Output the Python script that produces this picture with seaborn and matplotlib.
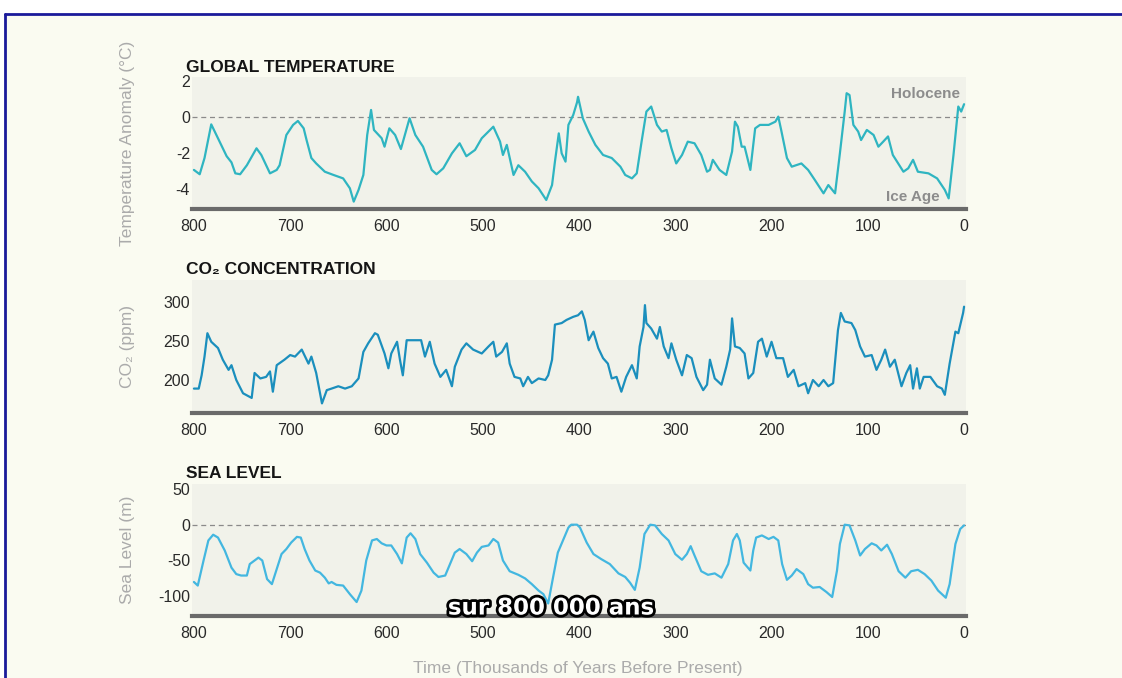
import numpy as np
import pandas as pd
import seaborn as sns
import matplotlib.pyplot as plt
import matplotlib.patheffects as pe
from matplotlib.lines import Line2D
from matplotlib.patches import Rectangle

# ages in thousands of years before present
temp_age = [800, 794, 789, 782, 775, 766, 761, 757, 752, 745, 735, 730, 721, 714, 711, 704, 697, 692, 686, 683,
            678, 673, 664, 655, 645, 638, 634, 629, 624, 620, 616, 613, 605, 602, 597, 591, 585, 576, 570, 562,
            553, 548, 541, 532, 524, 517, 508, 501, 489, 482, 479, 475, 468, 463, 456, 449, 442, 434, 428, 425,
            421, 418, 414, 411, 406, 402, 401, 396, 390, 383, 375, 366, 357, 352, 345, 340, 335, 330, 325, 319,
            314, 309, 304, 299, 293, 287, 280, 273, 267, 264, 261, 254, 247, 241, 238, 235, 231, 228, 222, 217,
            212, 203, 196, 193, 190, 184, 179, 169, 162, 155, 146, 141, 134, 129, 124, 122, 119, 115, 110, 107,
            101, 94, 89, 84, 79, 74, 63, 58, 53, 48, 37, 28, 20, 16, 11, 6, 3, 0]
temp_val = [-2.96, -3.2, -2.3, -0.43, -1.2, -2.2, -2.54, -3.15, -3.2, -2.7, -1.76, -2.13, -3.15, -2.96, -2.7, -1.02,
            -0.46, -0.24, -0.65, -1.3, -2.3, -2.6, -3.06, -3.24, -3.43, -3.98, -4.72, -4.07, -3.24, -1.02, 0.37,
            -0.74, -1.2, -1.67, -0.65, -1.02, -1.8, -0.09, -1.02, -1.67, -2.96, -3.2, -2.87, -2.04, -1.48, -2.2,
            -1.85, -1.2, -0.56, -1.39, -2.13, -1.57, -3.24, -2.7, -3.06, -3.6, -3.98, -4.63, -3.8, -2.5, -0.93,
            -2.04, -2.5, -0.46, 0.09, 0.8, 1.1, -0.1, -0.83, -1.57, -2.13, -2.3, -2.78, -3.24, -3.43, -3.15, -1.39,
            0.28, 0.56, -0.46, -0.83, -0.74, -1.76, -2.6, -2.13, -1.39, -1.48, -2.13, -3.06, -2.96, -2.4, -2.96,
            -3.24, -1.94, -0.28, -0.56, -1.67, -1.67, -2.96, -0.65, -0.46, -0.46, -0.28, 0.0, -0.74, -2.3, -2.78,
            -2.6, -2.96, -3.52, -4.26, -3.8, -4.26, -2.04, 0.28, 1.3, 1.2, -0.46, -0.83, -1.3, -0.74, -1.02, -1.67,
            -1.39, -1.1, -2.13, -3.06, -2.87, -2.4, -3.06, -3.15, -3.43, -4.07, -4.54, -2.13, 0.56, 0.28, 0.69]

co2_age = [800, 795, 792, 789, 786, 782, 775, 770, 764, 761, 756, 749, 740, 737, 731, 725, 721, 718, 714, 706,
           700, 695, 688, 681, 678, 673, 667, 662, 657, 650, 643, 636, 629, 624, 619, 612, 609, 602, 598, 595,
           589, 586, 583, 579, 570, 564, 560, 555, 550, 544, 538, 532, 529, 522, 517, 510, 501, 494, 489, 486,
           480, 475, 472, 467, 461, 458, 453, 449, 442, 435, 432, 428, 425, 418, 413, 406, 401, 397, 394, 390,
           385, 380, 375, 370, 366, 361, 356, 351, 345, 340, 337, 333, 331.5, 330, 325, 319, 316, 312, 307, 304,
           299, 293, 288, 283, 278, 271, 267, 264, 259, 252, 247, 243, 241, 238, 233, 228, 224, 219, 214, 210,
           205, 200, 195, 188, 183, 177, 172, 165, 162, 157, 151, 146, 141, 136, 131, 128, 124, 117, 113, 108,
           103, 96, 91, 86, 82, 77, 72, 65, 60, 56, 53, 49, 46, 42, 35, 28, 23, 20, 15, 9, 6, 1, 0]
co2_val = [189, 189, 206, 230, 260, 249, 241, 226, 213, 219, 200, 183, 177, 209, 202, 204, 211, 185, 219, 226,
           232, 230, 239, 221, 230, 209, 170, 187, 189, 192, 189, 192, 202, 236, 247, 260, 258, 234, 215, 234,
           249, 226, 206, 251, 251, 251, 230, 249, 221, 204, 213, 192, 217, 239, 247, 239, 234, 243, 249, 230,
           236, 247, 221, 204, 202, 192, 204, 196, 202, 200, 206, 226, 271, 273, 277, 281, 283, 288, 277, 251,
           262, 241, 228, 221, 202, 204, 185, 204, 219, 202, 243, 268, 296, 273, 266, 253, 268, 243, 228, 247,
           226, 206, 232, 228, 204, 187, 194, 226, 202, 194, 217, 239, 279, 243, 241, 234, 202, 209, 249, 253,
           230, 249, 228, 228, 204, 213, 192, 196, 183, 200, 192, 200, 192, 196, 264, 286, 275, 273, 264, 243,
           230, 232, 213, 226, 239, 217, 226, 192, 209, 219, 189, 215, 189, 204, 204, 192, 189, 181, 221, 262,
           260, 286, 294]

sea_age = [800, 796, 790, 785, 780, 775, 768, 761, 756, 751, 745, 742, 738, 733, 729, 724, 719, 714, 709, 704,
           699, 693, 689, 685, 680, 674, 669, 664, 660, 657, 652, 645, 638, 631, 626, 621, 615, 610, 605, 600,
           595, 589, 584, 579, 575, 570, 565, 558, 551, 546, 539, 534, 529, 524, 517, 511, 506, 501, 494, 489,
           484, 479, 472, 463, 456, 449, 442, 437, 432, 427, 422, 416, 411, 408, 402, 399, 392, 385, 377, 368,
           359, 352, 347, 342, 337, 332, 326, 321, 314, 307, 300, 293, 288, 284, 280, 273, 266, 259, 252, 245,
           240, 236, 233, 229, 222, 219, 216, 210, 203, 198, 193, 189, 184, 179, 174, 167, 162, 157, 150, 143,
           137, 132, 129, 124, 119, 113, 108, 103, 96, 91, 86, 80, 75, 68, 61, 55, 48, 41, 34, 27,
           19, 15, 9, 4, 0]
sea_val = [-80, -85, -50, -22, -14, -18, -36, -60, -69, -71, -71, -55, -51, -46, -50, -76, -83, -62, -41, -34,
           -25, -17, -18, -34, -50, -64, -67, -74, -82, -80, -84, -85, -97, -108, -92, -50, -22, -20, -26, -29,
           -29, -41, -54, -18, -12, -20, -41, -53, -67, -73, -71, -55, -39, -34, -41, -51, -39, -31, -29, -20,
           -25, -50, -65, -70, -75, -83, -92, -97, -110, -74, -39, -20, -4, 0, 0, -4, -25, -41, -48, -55,
           -68, -73, -81, -91, -60, -13, 0, -1, -13, -22, -41, -49, -41, -30, -43, -65, -70, -68, -74, -55,
           -22, -13, -22, -53, -64, -36, -18, -15, -20, -17, -22, -55, -77, -71, -62, -69, -83, -88, -87, -94,
           -101, -64, -27, 0, -1, -22, -43, -34, -26, -29, -36, -28, -41, -65, -74, -65, -63, -69, -78, -92,
           -102, -83, -27, -6, -1]

x_ticks = [800, 700, 600, 500, 400, 300, 200, 100, 0]

temp = pd.DataFrame({'age': temp_age, 'value': temp_val})
co2 = pd.DataFrame({'age': co2_age, 'value': co2_val})
sea = pd.DataFrame({'age': sea_age, 'value': sea_val})

sns.set_style("white")
plt.rcParams['font.family'] = ['Liberation Sans', 'DejaVu Sans']
plt.rcParams['axes.unicode_minus'] = False

W, H = 1122, 678
fig = plt.figure(figsize=(W / 100, H / 100), dpi=100)
fig.patch.set_facecolor('#fafbf1')

def px_axes(top, bottom, left=192, right=966):
    return fig.add_axes([left / W, 1 - bottom / H, (right - left) / W, (bottom - top) / H])

panels = [
    # data, top, bottom, ylim, yticks, colour, title, ylabel, zero line
    (temp, 77, 209, (-5.13, 2.2), [2, 0, -2, -4], '#2fb5c1', 'GLOBAL TEMPERATURE', 'Temperature Anomaly (°C)', True),
    (co2, 280, 413, (157.7, 328.2), [300, 250, 200], '#1b8fbd', 'CO₂ CONCENTRATION', 'CO₂ (ppm)', False),
    (sea, 484, 616, (-127.5, 56.8), [50, 0, -50, -100], '#43b7e0', 'SEA LEVEL', 'Sea Level (m)', True),
]

for df, top, bottom, ylim, yticks, colour, title, ylabel, zero in panels:
    ax = px_axes(top, bottom)
    ax.set_facecolor('#f1f2ea')
    if zero:
        ax.axhline(0, color='#8a8a8a', lw=0.9, dashes=(4, 3), zorder=1)
    sns.lineplot(data=df, x='age', y='value', ax=ax, color=colour, linewidth=1.6,
                 estimator=None, sort=False, zorder=2)
    ax.set_xlim(802, -2)
    ax.set_ylim(*ylim)
    ax.set_xticks(x_ticks)
    ax.set_yticks(yticks)
    ax.set_xlabel('')
    ax.set_ylabel('')
    for s in ['top', 'right', 'left']:
        ax.spines[s].set_visible(False)
    ax.spines['bottom'].set_color('#6a6a6a')
    ax.spines['bottom'].set_linewidth(3)
    ax.tick_params(axis='x', length=0, pad=7, labelsize=11.5, labelcolor='#2a2a2a')
    ax.tick_params(axis='y', length=0, pad=1.5, labelsize=11.5, labelcolor='#2a2a2a')
    # panel title and side label
    fig.text(186 / W, 1 - (top - 10) / H, title, fontsize=12.5, fontweight='bold', color='#151515',
             ha='left', va='center')
    fig.text(128 / W, 1 - (top + bottom) / 2 / H, ylabel, fontsize=12.5, color='#ababab',
             rotation=90, ha='center', va='center')

# labels inside the temperature panel
fig.text(960 / W, 1 - 94 / H, 'Holocene', fontsize=11, fontweight='bold', color='#8c8c8c',
         ha='right', va='center')
fig.text(940 / W, 1 - 197 / H, 'Ice Age', fontsize=11, fontweight='bold', color='#8c8c8c',
         ha='right', va='center')

fig.text(578 / W, 1 - 668 / H, 'Time (Thousands of Years Before Present)', fontsize=12.5,
         color='#ababab', ha='center', va='center')

# video subtitle
fig.text(551 / W, 1 - 608 / H, 'sur 800 000 ans', fontsize=16.5, fontweight='bold', color='white',
         family='DejaVu Sans', ha='center', va='center', zorder=10,
         path_effects=[pe.withStroke(linewidth=4, foreground='black')])

# frame of the screenshot
fig.add_artist(Rectangle((0, 1 - 14 / H), 1, 14 / H, transform=fig.transFigure,
                         facecolor='white', edgecolor='none'))
fig.add_artist(Rectangle((0, 0), 5 / W, 1, transform=fig.transFigure,
                         facecolor='white', edgecolor='none'))
fig.add_artist(Line2D([5 / W, 1], [1 - 14 / H, 1 - 14 / H], transform=fig.transFigure,
                      color='#1a1a9a', lw=2))
fig.add_artist(Line2D([5 / W, 5 / W], [0, 1 - 14 / H], transform=fig.transFigure,
                      color='#1a1a9a', lw=2))

fig.savefig('out.png', dpi=100, facecolor=fig.get_facecolor())
